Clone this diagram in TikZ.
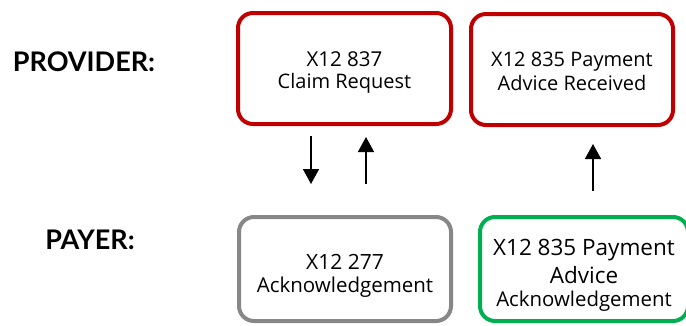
\documentclass[tikz,border=0pt]{standalone}
\usepackage{fontspec}
\setmainfont{Open Sans}
\newfontfamily\rolefont{Lato}
\usepackage{xcolor}
\usetikzlibrary{arrows.meta}
\definecolor{provred}{HTML}{C00000}
\definecolor{ackgray}{HTML}{878787}
\definecolor{paygreen}{HTML}{00B050}
\newcommand{\msgsize}[1]{\fontsize{#1}{#1}\selectfont}
\tikzset{
  msg/.style={rounded corners=15pt, line width=4pt, align=center, inner sep=0pt, text=black},
  flow/.style={-{Triangle[length=15pt, width=16pt]}, line width=1.6pt, color=black},
  role/.style={font=\rolefont\bfseries\fontsize{27}{30}\selectfont, inner sep=0pt}
}
\begin{document}
\begin{tikzpicture}[x=1pt, y=-1pt]
\useasboundingbox (0,0) rectangle (686,325);
% row labels
\node[role] (provider) at (84,62) {PROVIDER:};
\node[role] (payer) at (90,240) {PAYER:};
% provider messages
\node[msg, draw=provred, minimum width=213pt, minimum height=111pt, font=\msgsize{20}] (claim) at (344.5,68.5)
  {\rule{0pt}{22.6pt}{\msgsize{20.5}X12 837}\\[2pt] Claim Request};
\node[msg, draw=provred, minimum width=202pt, minimum height=111pt, font=\msgsize{20}] (received) at (572,69.5)
  {\rule{0pt}{17.3pt}X12 835 Payment\\[4pt] Advice Received};
% payer messages
\node[msg, draw=ackgray, minimum width=212pt, minimum height=104pt, font=\msgsize{20.5}] (ack) at (345,269)
  {\rule{0pt}{29.3pt}{\msgsize{21}X12 277}\\[2.5pt] Acknowledgement};
\node[msg, draw=paygreen, minimum width=208pt, minimum height=104pt, font=\msgsize{22.5}] (advice) at (584,269)
  {\rule{0pt}{29pt}X12 835 Payment\\[5.5pt] Advice\\[0.5pt] {\msgsize{20.4}Acknowledgement}};
% flows
\draw[flow] ([xshift=-33.5pt, yshift=-10pt]claim.south) -- ([xshift=-34pt, yshift=31pt]ack.north);
\draw[flow] ([xshift=21pt, yshift=31pt]ack.north) -- ([xshift=21.5pt, yshift=-11pt]claim.south);
\draw[flow] ([xshift=9pt, yshift=24pt]advice.north) -- ([xshift=21pt, yshift=-17pt]received.south);
\end{tikzpicture}
\end{document}
